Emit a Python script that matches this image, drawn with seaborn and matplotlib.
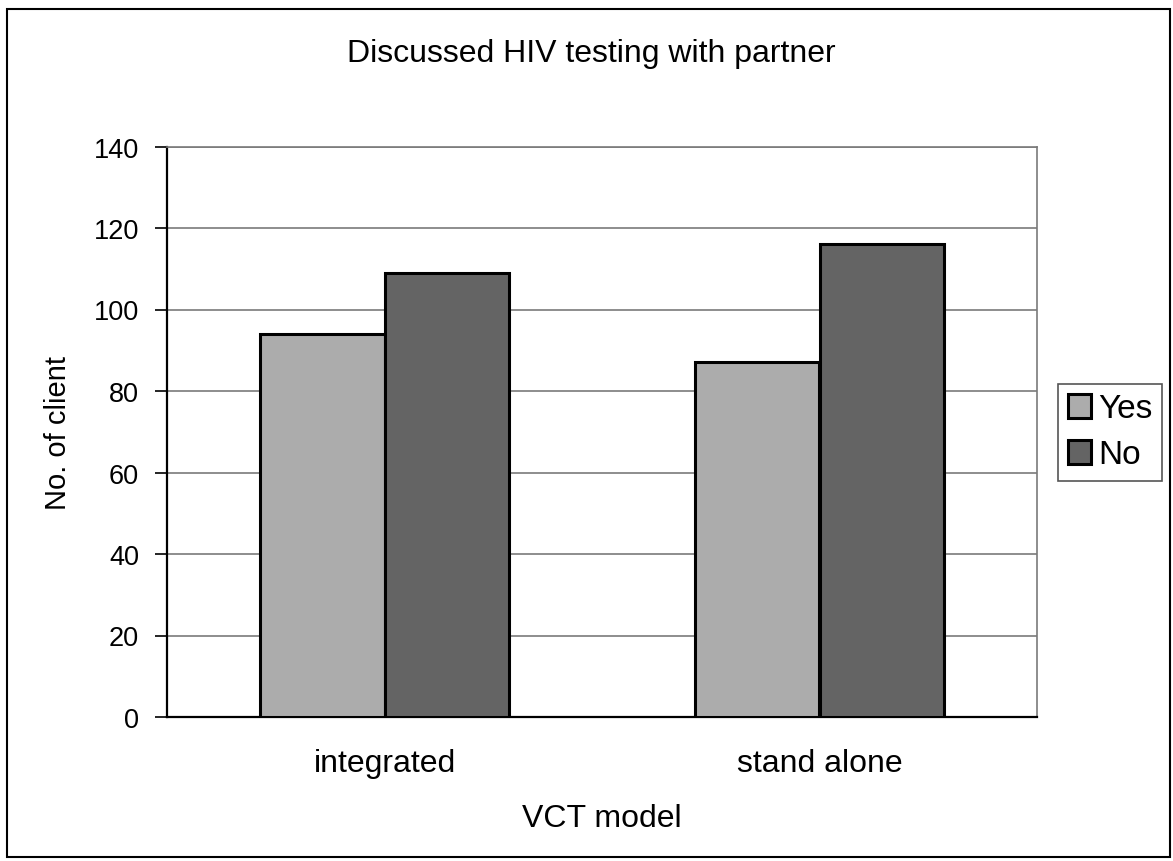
import pandas as pd
import matplotlib
matplotlib.use("Agg")
import matplotlib.pyplot as plt
import seaborn as sns
from matplotlib.patches import Rectangle
from matplotlib.ticker import MultipleLocator, FixedLocator, NullFormatter

# Data
models = ["integrated", "stand alone"]
answers = ["Yes", "No"]
yes_counts = [94, 87]
no_counts = [109, 116]

df = pd.DataFrame({
    "VCT model": models * 2,
    "Answer": ["Yes"] * len(models) + ["No"] * len(models),
    "Clients": yes_counts + no_counts,
})

sns.set_style("white")
plt.rcParams["font.family"] = ["Liberation Sans", "DejaVu Sans"]
plt.rcParams["text.color"] = "black"
plt.rcParams["axes.labelcolor"] = "black"
plt.rcParams["xtick.color"] = "black"
plt.rcParams["ytick.color"] = "black"

W, H = 1173, 862
fig = plt.figure(figsize=(W / 100, H / 100), dpi=100)

# plot area in pixels: left 167, right 1037, top 147.5, bottom 718
ax = fig.add_axes([167 / W, 1 - 718 / H, (1037 - 167) / W, (718 - 147.5) / H])

palette = {"Yes": "#acacac", "No": "#646464"}
sns.barplot(data=df, x="VCT model", y="Clients", hue="Answer", hue_order=answers,
            order=models, palette=palette, width=0.572, edgecolor="black",
            linewidth=2.2, saturation=1, ax=ax, legend=True, zorder=3)

ax.set_xlim(-0.5, 1.5)
ax.set_ylim(0, 140)
ax.yaxis.set_major_locator(MultipleLocator(20))
ax.grid(axis="y", color="#7a7a7a", linewidth=1.2, zorder=0)
ax.set_axisbelow(True)

# x ticks sit on category boundaries, labels at centres
ax.xaxis.set_minor_locator(FixedLocator([-0.5, 0.5, 1.5]))
ax.xaxis.set_minor_formatter(NullFormatter())
ax.tick_params(axis="x", which="major", length=0, labelsize=23, pad=22)
ax.tick_params(axis="x", which="minor", length=9, width=1.2, color="black", direction="out")
ax.tick_params(axis="y", length=9, width=1.2, color="black", direction="out",
               labelsize=19.5, pad=11, left=True)

for side in ["top", "right"]:
    ax.spines[side].set_color("#7a7a7a")
    ax.spines[side].set_linewidth(1.2)
for side in ["left", "bottom"]:
    ax.spines[side].set_color("black")
    ax.spines[side].set_linewidth(1.6)

ax.set_xlabel("VCT model", fontsize=23, labelpad=18)
ax.set_ylabel("No. of client", fontsize=21, labelpad=16)

fig.text(591 / W, 1 - 54 / H, "Discussed HIV testing with partner",
         fontsize=23, ha="center", va="center")

handles, labels = ax.get_legend_handles_labels()
ax.legend(handles, labels, loc="center left",
          bbox_to_anchor=(1058 / W, 1 - 433 / H), bbox_transform=fig.transFigure,
          fontsize=24, frameon=True, fancybox=False, edgecolor="#555555",
          framealpha=1, handlelength=0.7, handleheight=0.7, handletextpad=0.2,
          borderpad=0.3, labelspacing=0.45, borderaxespad=0)
ax.get_legend().get_frame().set_linewidth(1.2)

# outer chart border
fig.patches.append(Rectangle((7 / W, 1 - 858 / H), (1170 - 7) / W, (858 - 10) / H,
                             transform=fig.transFigure, fill=False,
                             edgecolor="black", linewidth=1.5))

fig.savefig("out.png", dpi=100)
